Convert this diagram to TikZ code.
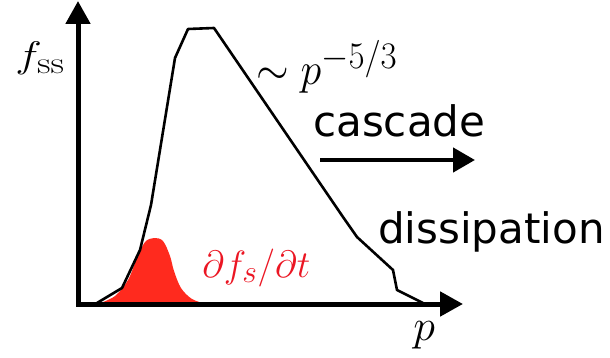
\documentclass[tikz,border=0pt]{standalone}
\usepackage{fontspec}
\newfontfamily\sansdv{DejaVu Sans}
\usetikzlibrary{arrows.meta}
\definecolor{bumpred}{RGB}{255,42,30}
\definecolor{labred}{RGB}{235,22,35}
\tikzset{
  axisline/.style={line width=5pt, {Triangle[length=23pt,width=24pt]}-{Triangle[length=23pt,width=24pt]}},
  spectrum/.style={line width=2.6pt, line join=round, line cap=round},
  flowarrow/.style={line width=4.5pt, -{Triangle[length=22pt,width=24pt]}},
  mathlab/.style={anchor=base west, inner sep=0pt, font=\Huge},
  wordlab/.style={anchor=base west, inner sep=0pt, font=\sansdv\fontsize{42}{42}\selectfont},
}
\begin{document}
\begin{tikzpicture}[x=1pt,y=-1pt]
\useasboundingbox (0,0) rectangle (610,358);
% red bump
\fill[bumpred] plot[smooth, tension=0.55] coordinates {(98,304) (115,296) (128,280) (137,258) (145,242) (154,238) (163,241) (170,256) (174,271) (181,288) (192,299) (206,304)} -- cycle;
% axes
\coordinate (O) at (78,304);
\coordinate (ytip) at (78,1);
\coordinate (xtip) at (463,304);
\draw[axisline] (ytip) -- (O) -- (xtip);
% spectrum curve
\draw[spectrum] (97,303) -- (122,288) -- (140,250) -- (151,205) -- (175,58) -- (188,29) -- (214,28) -- (343,217) -- (357,237) -- (393,270) -- (397,290) -- (423,303);
% labels
\node[mathlab, xscale=45/24.88, yscale=37/24.88] (fss) at (15,68) {$f_{\mathrm{ss}}$};
\node[mathlab, xscale=42/24.88, yscale=45/24.88] (law) at (256,85) {$\sim p^{-5/3}$};
\node[mathlab, scale=38/24.88, text=labred] (dfdt) at (202,277) {$\partial f_s/\partial t$};
\node[mathlab, scale=44/24.88] (plab) at (413,340) {$p$};
\node[wordlab] (casc) at (313,137) {cascade};
\node[wordlab] (diss) at (378,243) {dissipation};
\coordinate (ca) at (320,160);
\coordinate (cb) at (475,160);
\draw[flowarrow] (ca) -- (cb);
\end{tikzpicture}
\end{document}
